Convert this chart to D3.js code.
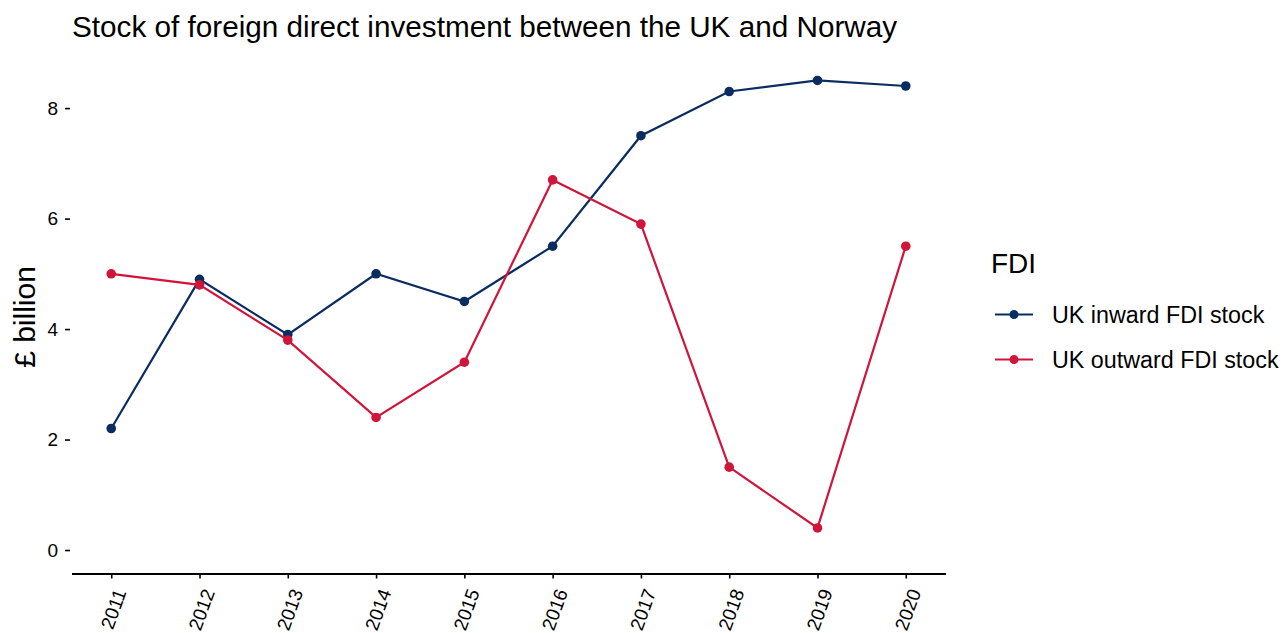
<!DOCTYPE html>
<html><head><meta charset="utf-8">
<script src="https://cdn.jsdelivr.net/npm/d3@7"></script>
<style>body{margin:0;background:#fff;} text{font-family:"Liberation Sans",Arial,sans-serif;}</style>
</head><body>
<svg id="c" width="1285" height="633"></svg>
<script>
const years = [2011,2012,2013,2014,2015,2016,2017,2018,2019,2020];
const inward = [2.2,4.9,3.9,5.0,4.5,5.5,7.5,8.3,8.5,8.4];
const outward = [5.0,4.8,3.8,2.4,3.4,6.7,5.9,1.5,0.4,5.5];
const seriesNames = ["UK inward FDI stock","UK outward FDI stock"];
const seriesColors = ["#0b2c61","#d0143a"];
const yTicks = [0,2,4,6,8];
const title = "Stock of foreign direct investment between the UK and Norway";

const svg = d3.select("#c");
const x = d3.scaleLinear().domain([2011-0.45, 2020+0.45]).range([71.5, 945.5]);
const y = d3.scaleLinear().domain([-0.425, 8.925]).range([573.5, 57]);

svg.append("text").attr("x",72).attr("y",37).attr("font-size",29.7).attr("fill","#000").text(title);

// x axis
const xa = svg.append("g").attr("transform","translate(0,573.5)")
  .call(d3.axisBottom(x).tickValues(years).tickFormat(d3.format("d")).tickSize(5).tickSizeOuter(0));
xa.select(".domain").attr("stroke","#000").attr("stroke-width",2);
xa.selectAll(".tick line").attr("stroke","#000").attr("stroke-width",1.6);
xa.selectAll(".tick text").style("font-size","19px").attr("fill","#000")
  .attr("text-anchor","end").attr("dy",0).attr("x",0).attr("y",0)
  .attr("transform","translate(15,18.5) rotate(-70)");

// y axis
const ya = svg.append("g").attr("transform","translate(70,0)")
  .call(d3.axisLeft(y).tickValues(yTicks).tickSize(5).tickPadding(7));
ya.select(".domain").remove();
ya.selectAll(".tick line").attr("stroke","#000").attr("stroke-width",1.6);
ya.selectAll(".tick text").style("font-size","19px").attr("fill","#000");

svg.append("text").attr("transform","translate(35,317) rotate(-90)").attr("text-anchor","middle")
  .attr("font-size",30).attr("fill","#000").text("£ billion");

const data = [inward, outward];
const line = d3.line().x((d,i)=>x(years[i])).y(d=>y(d));
data.forEach((vals,k)=>{
  svg.append("path").attr("d",line(vals)).attr("fill","none").attr("stroke",seriesColors[k]).attr("stroke-width",2.2);
  svg.append("g").selectAll("circle").data(vals).join("circle")
    .attr("cx",(d,i)=>x(years[i])).attr("cy",d=>y(d)).attr("r",4.8).attr("fill",seriesColors[k]);
});

// legend
svg.append("text").attr("x",991).attr("y",273).attr("font-size",28).attr("fill","#000").text("FDI");
seriesNames.forEach((n,k)=>{
  const ly = 314.5 + k*45;
  svg.append("line").attr("x1",995).attr("x2",1033).attr("y1",ly).attr("y2",ly).attr("stroke",seriesColors[k]).attr("stroke-width",2.2);
  svg.append("circle").attr("cx",1014).attr("cy",ly).attr("r",4.5).attr("fill",seriesColors[k]);
  svg.append("text").attr("x",1052).attr("y",ly).attr("dy","0.36em").attr("font-size",23.3).attr("fill","#000").text(n);
});
</script>
</body></html>
